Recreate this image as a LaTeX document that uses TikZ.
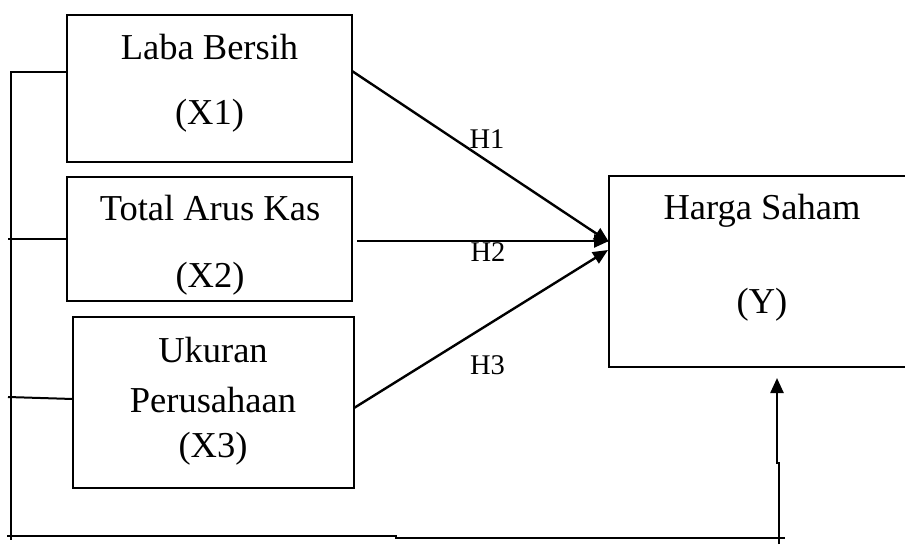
\documentclass[tikz,border=0pt]{standalone}
\usepackage{fontspec}
\setmainfont{Liberation Serif}
\usetikzlibrary{arrows.meta,calc}
\begin{document}
\begin{tikzpicture}[x=1pt,y=-1pt,
  box/.style={draw,line width=2pt,inner sep=0pt,outer sep=0pt},
  lbl/.style={anchor=base,inner sep=0pt,font=\fontsize{36.5}{44}\selectfont},
  hyp/.style={anchor=base,inner sep=0pt,font=\fontsize{28.5}{34}\selectfont},
  link/.style={line width=2pt},
  arr/.style={line width=2.4pt,-{Triangle[length=15pt,width=13pt]}}
]
\path[use as bounding box] (0,0) rectangle (905,544);
\clip (0,0) rectangle (905,544);

% variable boxes
\node[box,minimum width=285pt,minimum height=147pt] (x1) at (209.5,88.5) {};
\node[box,minimum width=285pt,minimum height=124pt] (x2) at (209.5,239) {};
\node[box,minimum width=281pt,minimum height=171pt] (x3) at (213.5,402.5) {};
\node[box,minimum width=306pt,minimum height=191pt] (y) at (762,271.5) {};

% box texts
\node[lbl] (t1a) at (209.5,59) {Laba Bersih};
\node[lbl] (t1b) at (209.5,124) {(X1)};
\node[lbl] (t2a) at (210,220) {Total Arus Kas};
\node[lbl] (t2b) at (210,287) {(X2)};
\node[lbl] (t3a) at (213,362) {Ukuran};
\node[lbl] (t3b) at (213,412) {Perusahaan};
\node[lbl] (t3c) at (213,457) {(X3)};
\node[lbl] (tya) at (762,219) {Harga Saham};
\node[lbl] (tyb) at (762,313) {(Y)};

% hypothesis labels
\node[hyp] (h1) at (487,148) {H1};
\node[hyp] (h2) at (488,261) {H2};
\node[hyp] (h3) at (487.5,374) {H3};

% hypothesis arrows
\draw[arr] ($(x1.east)+(0,-17.5)$) -- ($(y.west)+(0,-29.5)$);
\draw[arr] ($(x2.east)+(5,2)$) -- ($(y.west)+(0,-30.5)$);
\draw[arr] ($(x3.east)+(0,5.5)$) -- ($(y.west)+(-1,-21.5)$);

% simultaneous path on the left and along the bottom
\coordinate (busTop) at (11,72);
\coordinate (busEnd) at (11,540);
\coordinate (tap2) at (8,239);
\coordinate (tap3) at (8,397);
\coordinate (botA) at (7,536);
\coordinate (botB) at (396,536);
\coordinate (botC) at (396,538);
\coordinate (botD) at (785,538);
\coordinate (feed) at (779,544);
\coordinate (jogA) at (779,463);
\coordinate (jogB) at (777,463);

\draw[link] ($(x1.west)+(0,-16.5)$) -- (busTop) -- (busEnd);
\draw[link] (tap2) -- (x2.west);
\draw[link] (tap3) -- ($(x3.west)+(0,-3.5)$);
\draw[link] (botA) -- (botB) -- (botC) -- (botD);
\draw[arr] (feed) -- (jogA) -- (jogB) -- ($(y.south)+(15,11)$);
\end{tikzpicture}
\end{document}
